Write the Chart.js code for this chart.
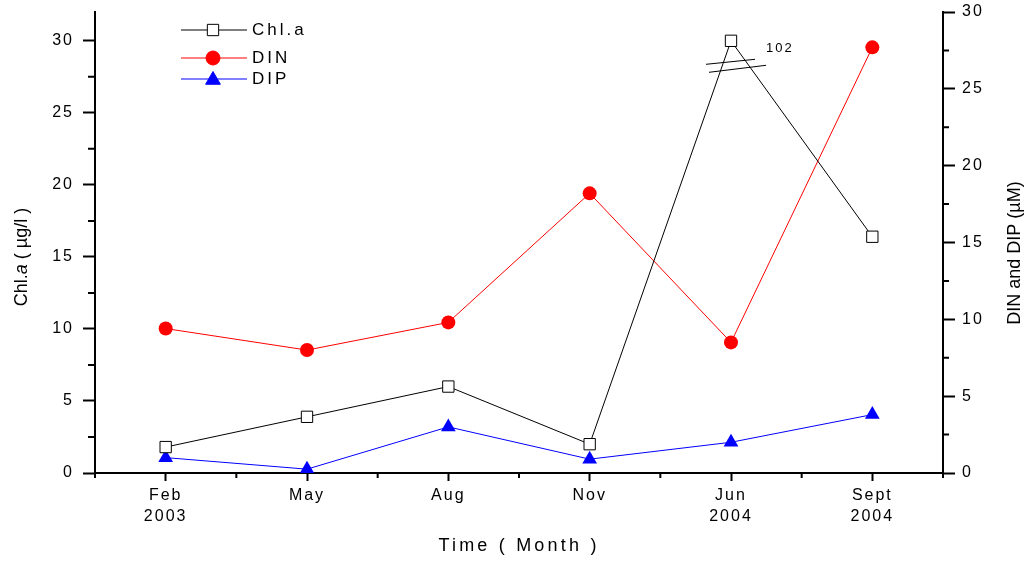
<!DOCTYPE html>
<html>
<head>
<meta charset="utf-8">
<script src="https://cdn.jsdelivr.net/npm/chart.js@4.4.1/dist/chart.umd.min.js"></script>
<style>
  body { margin: 0; background: #fff; }
</style>
</head>
<body>
<canvas id="chart" width="1035" height="562"></canvas>
<script>
// sampling months (multi-line labels)
const months = [['Feb', '2003'], 'May', 'Aug', 'Nov', ['Jun', '2004'], ['Sept', '2004']];
// Chl.a in ug/l (Jun 2004 is off the scale: 102)
const chlA = [1.8, 3.9, 6.0, 2.0, 102, 16.4];
// nutrients in uM
const din = [9.4, 8.0, 9.8, 18.2, 8.5, 27.7];
const dip = [1.0, 0.25, 3.0, 0.9, 2.0, 3.8];
const chlTicks = [0, 5, 10, 15, 20, 25, 30];
const nutTicks = [0, 5, 10, 15, 20, 25, 30];
const chlBreak = 30; // left axis is broken above this

const FONT = "'Liberation Sans', Arial, sans-serif";

const extras = {
  id: 'extras',
  beforeLayout(chart) { chart.ctx.letterSpacing = '2px'; },
  beforeDraw(chart) { chart.ctx.letterSpacing = '2px'; },
  afterDraw(chart) {
    const { ctx, chartArea: a, scales: { x, y, y1 } } = chart;
    ctx.save();
    ctx.strokeStyle = '#000';
    ctx.lineWidth = 2;

    // minor ticks
    ctx.beginPath();
    for (let v = 2.5; v < chlBreak; v += 5) {
      const py = y.getPixelForValue(v);
      ctx.moveTo(a.left, py); ctx.lineTo(a.left - 7, py);
    }
    for (let v = 2.5; v < 30; v += 5) {
      const py = y1.getPixelForValue(v);
      ctx.moveTo(a.right, py); ctx.lineTo(a.right + 6, py);
    }
    for (let i = 0; i <= months.length; i++) {
      const px = x.getPixelForValue(i - 0.5);
      ctx.moveTo(px, a.bottom); ctx.lineTo(px, a.bottom + 5);
    }
    ctx.stroke();

    // axis break on the Chl.a line
    const jun = chlA.findIndex(v => v > chlBreak);
    const bx = x.getPixelForValue(jun);
    const by = y.getPixelForValue(chlBreak - 1.7);
    ctx.lineWidth = 1;
    ctx.beginPath();
    ctx.moveTo(bx - 25, by - 1); ctx.lineTo(bx + 24, by - 6);
    ctx.moveTo(bx - 22, by + 7); ctx.lineTo(bx + 35, by + 0);
    ctx.stroke();
    ctx.fillStyle = '#000';
    ctx.font = '13px ' + FONT;
    ctx.letterSpacing = '2px';
    ctx.textAlign = 'left';
    ctx.textBaseline = 'middle';
    ctx.fillText(String(chlA[jun]), bx + 35, y.getPixelForValue(chlBreak) + 8);

    // legend
    const items = [
      { text: 'Chl.a', color: '#000', style: 'rect', r: 8, fill: '#fff', dy: 18 },
      { text: 'DIN', color: '#ff0000', style: 'circle', r: 7, fill: '#ff0000', dy: 46 },
      { text: 'DIP', color: '#0000ff', style: 'triangle', r: 8.5, fill: '#0000ff', dy: 67 }
    ];
    ctx.font = '17px ' + FONT;
    ctx.letterSpacing = '3px';
    items.forEach(it => {
      const ly = a.top + it.dy;
      ctx.strokeStyle = it.color;
      ctx.lineWidth = 1;
      ctx.beginPath();
      ctx.moveTo(a.left + 86, ly); ctx.lineTo(a.left + 152, ly);
      ctx.stroke();
      ctx.fillStyle = it.fill;
      Chart.helpers.drawPoint(ctx, { pointStyle: it.style, radius: it.r, rotation: 0, borderWidth: 1 }, a.left + 118, ly + (it.style === 'triangle' ? 1 : 0));
      ctx.fillStyle = '#000';
      ctx.fillText(it.text, a.left + 157, ly);
    });

    // axis titles
    ctx.fillStyle = '#000';
    ctx.textBaseline = 'middle';
    ctx.font = '18px ' + FONT;
    ctx.letterSpacing = '3.2px';
    ctx.textAlign = 'center';
    ctx.fillText('Time ( Month )', (a.left + a.right) / 2, 546);

    ctx.letterSpacing = '0px';
    ctx.save();
    ctx.translate(22, 257);
    ctx.rotate(-Math.PI / 2);
    const parts = [['Chl.', 'normal'], ['a', 'italic'], [' ( µg/l )', 'normal']];
    let total = 0;
    parts.forEach(p => { ctx.font = p[1] + ' 18px ' + FONT; total += ctx.measureText(p[0]).width; });
    let cx = -total / 2;
    ctx.textAlign = 'left';
    parts.forEach(p => {
      ctx.font = p[1] + ' 18px ' + FONT;
      ctx.fillText(p[0], cx, 0);
      cx += ctx.measureText(p[0]).width;
    });
    ctx.restore();

    ctx.save();
    ctx.translate(1015, 253);
    ctx.rotate(-Math.PI / 2);
    ctx.font = '18px ' + FONT;
    ctx.textAlign = 'center';
    ctx.fillText('DIN and DIP (µM)', 0, 0);
    ctx.restore();

    ctx.restore();
  }
};

const tickFont = { family: FONT, size: 16 };

function fixSide(s, w) {
  s.width = w;
  s.paddingTop = 0;
  s.paddingBottom = 0;
}

new Chart(document.getElementById('chart'), {
  type: 'line',
  data: {
    labels: months,
    datasets: [
      {
        label: 'Chl.a',
        data: chlA.map(v => Math.min(v, chlBreak)),
        yAxisID: 'y',
        borderColor: '#000',
        borderWidth: 1,
        pointStyle: 'rect',
        pointRadius: 8,
        pointBackgroundColor: '#fff',
        pointBorderColor: '#000',
        pointBorderWidth: 1
      },
      {
        label: 'DIN',
        data: din,
        yAxisID: 'y1',
        borderColor: '#ff0000',
        borderWidth: 1,
        pointStyle: 'circle',
        pointRadius: 7,
        pointBackgroundColor: '#ff0000',
        pointBorderColor: '#ff0000',
        pointBorderWidth: 0
      },
      {
        label: 'DIP',
        data: dip,
        yAxisID: 'y1',
        borderColor: '#0000ff',
        borderWidth: 1,
        pointStyle: 'triangle',
        pointRadius: 8.5,
        pointBackgroundColor: '#0000ff',
        pointBorderColor: '#0000ff',
        pointBorderWidth: 0
      }
    ]
  },
  options: {
    responsive: false,
    animation: false,
    layout: { padding: { top: 12, left: 0, right: 0, bottom: 0 } },
    plugins: { legend: { display: false }, tooltip: { enabled: false } },
    elements: { line: { tension: 0 } },
    scales: {
      x: {
        offset: true,
        border: { display: true, color: '#000', width: 2 },
        grid: { offset: false, drawOnChartArea: false, tickLength: 8, tickWidth: 2, tickColor: '#000' },
        ticks: { color: '#000', padding: 4, maxRotation: 0, autoSkip: false, font: { family: FONT, size: 16, lineHeight: 1.3 } },
        afterFit(s) { s.height = 89; s.paddingLeft = 0; s.paddingRight = 0; }
      },
      y: {
        position: 'left',
        min: 0,
        max: 32,
        border: { display: true, color: '#000', width: 2 },
        grid: { drawOnChartArea: false, tickLength: 12, tickWidth: 2, tickColor: '#000' },
        ticks: { font: tickFont, color: '#000', padding: 9 },
        afterBuildTicks(s) { s.ticks = chlTicks.map(v => ({ value: v })); },
        afterFit(s) { fixSide(s, 95); }
      },
      y1: {
        position: 'right',
        min: 0,
        max: 30,
        border: { display: true, color: '#000', width: 2 },
        grid: { drawOnChartArea: false, tickLength: 12, tickWidth: 2, tickColor: '#000' },
        ticks: { font: tickFont, color: '#000', padding: 7 },
        afterBuildTicks(s) { s.ticks = nutTicks.map(v => ({ value: v })); },
        afterFit(s) { fixSide(s, 92); }
      }
    }
  },
  plugins: [extras]
});
</script>
</body>
</html>
